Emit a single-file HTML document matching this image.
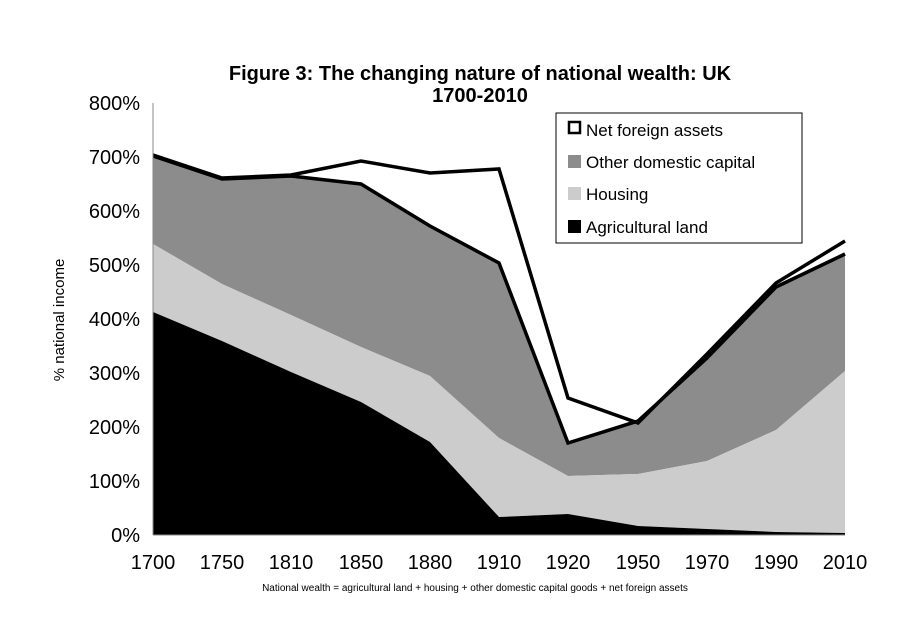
<!DOCTYPE html>
<html><head><meta charset="utf-8"><style>
body{margin:0;background:#fff;}
svg text{font-family:"Liberation Sans",Arial,sans-serif;}
</style></head><body>
<svg width="910" height="630" viewBox="0 0 910 630" xmlns="http://www.w3.org/2000/svg">
<rect width="910" height="630" fill="#fff"/>
<text x="480" y="80" text-anchor="middle" font-size="20" font-weight="bold">Figure 3: The changing nature of national wealth: UK</text>
<text x="480" y="102" text-anchor="middle" font-size="20" font-weight="bold">1700-2010</text>
<!-- Net foreign (white) area -->
<polygon fill="#fff" points="153,155 222,178 291,175 361,161 430,173 499,169 568,398 638,423 707,354 776,283 845,241 845,254 776,287 707,358 638,421 568,443 499,263 430,226 361,184 291,176 222,179 153,156"/>
<!-- Other domestic -->
<polygon fill="#8c8c8c" points="153,156 222,179 291,176 361,184 430,226 499,263 568,443 638,421 707,358 776,287 845,254 845,371 776,430 707,461 638,474 568,476 499,438 430,376 361,347 291,315 222,284 153,244"/>
<!-- Housing -->
<polygon fill="#cccccc" points="153,244 222,284 291,315 361,347 430,376 499,438 568,476 638,474 707,461 776,430 845,371 845,533 776,532 707,529 638,526 568,514 499,517 430,442 361,402 291,372 222,341 153,312"/>
<!-- Agricultural -->
<polygon fill="#000" points="153,312 222,341 291,372 361,402 430,442 499,517 568,514 638,526 707,529 776,532 845,533 845,535 153,535"/>
<polyline fill="none" stroke="#000" stroke-width="3.5" stroke-linejoin="miter" points="153,155 222,178 291,175 361,161 430,173 499,169 568,398 638,423 707,354 776,283 845,241"/>
<polyline fill="none" stroke="#000" stroke-width="3.5" points="153,156 222,179 291,176 361,184 430,226 499,263 568,443 638,421 707,358 776,287 845,254"/>
<!-- axes -->
<line x1="153" y1="103" x2="153" y2="535" stroke="#888" stroke-width="1"/>
<line x1="153" y1="535" x2="845" y2="535" stroke="#888" stroke-width="1"/>
<g font-size="20" text-anchor="end">
<text x="140" y="542">0%</text>
<text x="140" y="488">100%</text>
<text x="140" y="434">200%</text>
<text x="140" y="380">300%</text>
<text x="140" y="326">400%</text>
<text x="140" y="272">500%</text>
<text x="140" y="218">600%</text>
<text x="140" y="164">700%</text>
<text x="140" y="110">800%</text>
</g>
<g font-size="20" text-anchor="middle">
<text x="153" y="569">1700</text><text x="222" y="569">1750</text><text x="291" y="569">1810</text>
<text x="361" y="569">1850</text><text x="430" y="569">1880</text><text x="499" y="569">1910</text>
<text x="568" y="569">1920</text><text x="638" y="569">1950</text><text x="707" y="569">1970</text>
<text x="776" y="569">1990</text><text x="845" y="569">2010</text>
</g>
<text transform="translate(64,320) rotate(-90)" text-anchor="middle" font-size="15">% national income</text>
<text x="475" y="591" text-anchor="middle" font-size="10">National wealth = agricultural land + housing + other domestic capital goods + net foreign assets</text>
<!-- legend -->
<rect x="556" y="113" width="246" height="130" fill="#fff" stroke="#000" stroke-width="1"/>
<rect x="569" y="122" width="11" height="11" fill="#fff" stroke="#000" stroke-width="2.5"/>
<text x="586" y="136" font-size="17">Net foreign assets</text>
<rect x="568" y="155" width="13" height="13" fill="#8c8c8c"/>
<text x="586" y="168" font-size="17">Other domestic capital</text>
<rect x="568" y="187" width="13" height="13" fill="#cccccc"/>
<text x="586" y="200" font-size="17">Housing</text>
<rect x="568" y="220" width="13" height="13" fill="#000"/>
<text x="586" y="233" font-size="17">Agricultural land</text>
</svg>
</body></html>
